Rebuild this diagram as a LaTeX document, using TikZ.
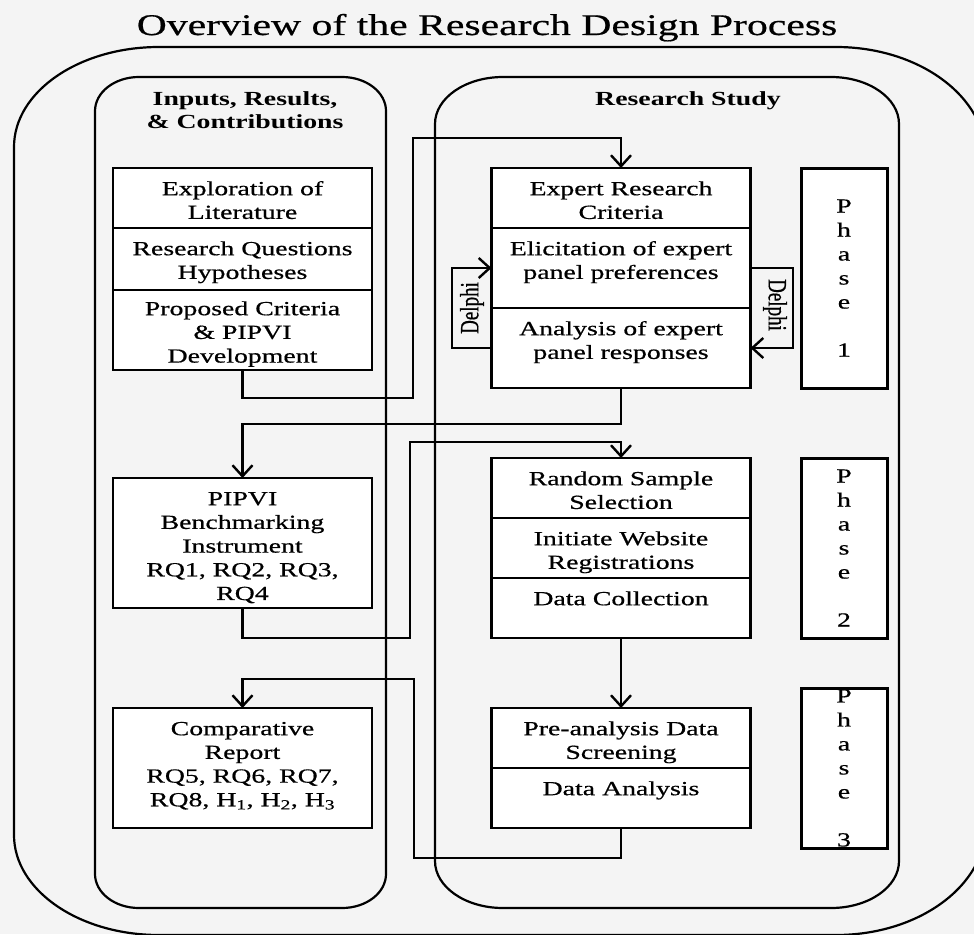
\documentclass[tikz,border=0pt]{standalone}
\usepackage{graphicx}
\usepackage{fontspec}
\setmainfont{Liberation Serif}[FakeStretch=1.39, UprightFeatures={FakeBold=0.6}]
\newfontfamily\plainserif{Liberation Serif}[FakeBold=0.6]
\usetikzlibrary{arrows.meta}
\definecolor{bgc}{HTML}{F4F4F4}
\begin{document}
\begin{tikzpicture}[x=1pt,y=-1pt,
  cell/.style={draw, line width=2.4pt, fill=white, minimum width=259pt, inner sep=0pt, outer sep=0pt},
  txt/.style={align=center, inner sep=0pt, font=\fontsize{20}{23.7}\selectfont, anchor=north, yshift=-10.4pt},
  phasebox/.style={draw, line width=3pt, fill=white, minimum width=86pt, inner sep=0pt, outer sep=0pt},
  phasetxt/.style={align=center, inner sep=0pt, font=\fontsize{20}{24}\selectfont},
  conn/.style={line width=2.4pt, -{Straight Barb[length=11pt,width=20pt]}},
  roundbox/.style={line width=2.2pt},
  hdr/.style={align=center, inner sep=0pt, font=\fontsize{20}{23}\selectfont\bfseries},
  delphi/.style={inner sep=0pt},
]
\useasboundingbox (0,0) rectangle (974,934);
\clip (0,0) rectangle (974,934);
\fill[bgc] (0,0) rectangle (974,934);

% outer rounded frame (left: rx=145, ry=100; right: rx=150, ry=110)
\draw[roundbox] (14,147) -- (14,835) .. controls (14,890.2) and (78.9,935) .. (159,935)
  -- (836,935) .. controls (918.8,935) and (986,885.8) .. (986,825)
  -- (986,157) .. controls (986,96.3) and (918.8,47) .. (836,47)
  -- (159,47) .. controls (78.9,47) and (14,91.8) .. (14,147) -- cycle;

% left inner frame (rx=44, ry=34)
\draw[roundbox] (95,111) -- (95,874) .. controls (95,892.8) and (114.7,908) .. (139,908)
  -- (342,908) .. controls (366.3,908) and (386,892.8) .. (386,874)
  -- (386,111) .. controls (386,92.2) and (366.3,77) .. (342,77)
  -- (139,77) .. controls (114.7,77) and (95,92.2) .. (95,111) -- cycle;

% right inner frame (rx=68, ry=47)
\draw[roundbox] (435,124) -- (435,861) .. controls (435,887) and (465.4,908) .. (503,908)
  -- (831,908) .. controls (868.6,908) and (899,887) .. (899,861)
  -- (899,124) .. controls (899,98) and (868.6,77) .. (831,77)
  -- (503,77) .. controls (465.4,77) and (435,98) .. (435,124) -- cycle;

% title and headers
\node[font=\fontsize{30}{36}\selectfont, anchor=base, inner sep=0pt] (title) at (487,35) {Overview of the Research Design Process};
\node[hdr, anchor=north] (h1) at (245,88.9) {\strut Inputs, Results,\\\& Contributions};
\node[hdr, anchor=base] (h2) at (688,105) {Research Study};

% left column cells
\node[cell, minimum height=60pt] (L1) at (242.5,198) {};
\node[cell, minimum height=62pt] (L2) at (242.5,259) {};
\node[cell, minimum height=80pt] (L3) at (242.5,330) {};
\node[cell, minimum height=130pt] (L4) at (242.5,543) {};
\node[cell, minimum height=120pt] (L5) at (242.5,768) {};

% right column cells
\node[cell, minimum height=60pt] (R1) at (621,198) {};
\node[cell, minimum height=80pt] (R2) at (621,268) {};
\node[cell, minimum height=80pt] (R3) at (621,348) {};
\node[cell, minimum height=60pt] (R4) at (621,488) {};
\node[cell, minimum height=60pt] (R5) at (621,548) {};
\node[cell, minimum height=60pt] (R6) at (621,608) {};
\node[cell, minimum height=60pt] (R7) at (621,738) {};
\node[cell, minimum height=60pt] (R8) at (621,798) {};

% cell texts
\node[txt] (L1t) at (L1.north) {\strut Exploration of\\Literature};
\node[txt] (L2t) at (L2.north) {\strut Research Questions\\Hypotheses};
\node[txt, yshift=2pt] (L3t) at (L3.north) {\strut Proposed Criteria\\\& PIPVI\\Development};
\node[txt] (L4t) at (L4.north) {\strut PIPVI\\Benchmarking\\Instrument\\RQ1, RQ2, RQ3,\\RQ4};
\node[txt] (L5t) at (L5.north) {\strut Comparative\\Report\\RQ5, RQ6, RQ7,\\RQ8, H\textsubscript{1}, H\textsubscript{2}, H\textsubscript{3}};
\node[txt] (R1t) at (R1.north) {\strut Expert Research\\Criteria};
\node[txt] (R2t) at (R2.north) {\strut Elicitation of expert\\panel preferences};
\node[txt] (R3t) at (R3.north) {\strut Analysis of expert\\panel responses};
\node[txt] (R4t) at (R4.north) {\strut Random Sample\\Selection};
\node[txt] (R5t) at (R5.north) {\strut Initiate Website\\Registrations};
\node[txt] (R6t) at (R6.north) {\strut Data Collection};
\node[txt] (R7t) at (R7.north) {\strut Pre-analysis Data\\Screening};
\node[txt] (R8t) at (R8.north) {\strut Data Analysis};

% phase boxes
\node[phasebox, minimum height=220pt] (P1) at (844,278) {};
\node[phasebox, minimum height=180pt] (P2) at (844,548) {};
\node[phasebox, minimum height=160pt] (P3) at (844,768) {};
\node[phasetxt] (P1t) at (P1.center) {P\\h\\a\\s\\e\\~\\1};
\node[phasetxt] (P2t) at (P2.center) {P\\h\\a\\s\\e\\~\\2};
\node[phasetxt] (P3t) at (P3.center) {P\\h\\a\\s\\e\\~\\3};

% bend points
\coordinate (k1a) at (413,398);
\coordinate (k1b) at (413,138);
\coordinate (k2) at (500,424);
\coordinate (k3a) at (410,638);
\coordinate (k3b) at (410,442);
\coordinate (k5a) at (414,858);
\coordinate (k5b) at (414,679);
\coordinate (dl1) at (452,348);
\coordinate (dl2) at (452,268);
\coordinate (dr1) at (793,268);
\coordinate (dr2) at (793,348);

% connectors
\draw[conn] (L3.south) |- (k1a) -- (k1b) -| (R1.north);
\draw[conn] (R3.south) |- (k2) -| (L4.north);
\draw[conn] (L4.south) |- (k3a) -- (k3b) -| (R4.north);
\draw[conn] (R6.south) -- (R7.north);
\draw[conn] (R8.south) |- (k5a) -- (k5b) -| (L5.north);

% Delphi loops
\draw[conn] (R3.west |- dl1) -- (dl1) -- (dl2) -- (R2.west |- dl2);
\draw[conn] (R2.east |- dr1) -- (dr1) -- (dr2) -- (R3.east |- dr2);
\node[delphi] (D1) at (472,308) {\scalebox{1.39}[1]{\rotatebox{90}{\plainserif\fontsize{19}{19}\selectfont Delphi}}};
\node[delphi] (D2) at (775,305) {\scalebox{1.39}[1]{\rotatebox{-90}{\plainserif\fontsize{19}{19}\selectfont Delphi}}};
\end{tikzpicture}
\end{document}
